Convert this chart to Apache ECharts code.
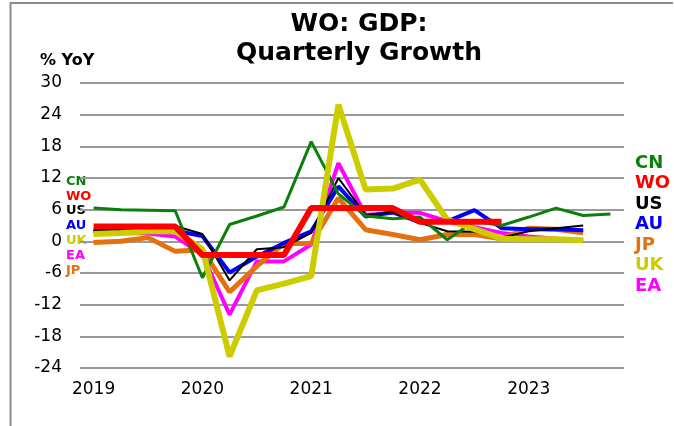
<html>
<head>
<meta charset="utf-8">
<script src="https://cdn.jsdelivr.net/npm/echarts@6/dist/echarts.min.js"></script>
</head>
<body>
<style>
    html, body, #main {
        width: 100%;
        height: 100%;
        margin: 0;
        background: #fff;
    }
</style>
<div id='main'></div>
<script>
    // quarters 2019Q1 .. 2023Q4
    var quarters = ['2019Q1','2019Q2','2019Q3','2019Q4','2020Q1','2020Q2','2020Q3','2020Q4',
                    '2021Q1','2021Q2','2021Q3','2021Q4','2022Q1','2022Q2','2022Q3','2022Q4',
                    '2023Q1','2023Q2','2023Q3','2023Q4'];

    // % YoY values
    var cn = [6.3, 6.0, 5.9, 5.8, -6.9, 3.2, 4.8, 6.5, 18.9, 9.0, 4.8, 4.3, 4.6, 0.3, 3.8, 3.0, 4.6, 6.3, 4.9, 5.2];
    var wo = [2.8, 2.8, 2.8, 2.8, -2.6, -2.6, -2.6, -2.6, 6.3, 6.3, 6.3, 6.3, 3.7, 3.7, 3.7, 3.7];
    var us = [2.1, 2.2, 2.4, 2.9, 1.4, -7.4, -1.5, -1.1, 1.6, 12.0, 5.0, 5.5, 3.5, 1.9, 1.8, 0.7, 1.9, 2.5, 3.0];
    var au = [2.0, 2.1, 2.1, 2.0, 1.0, -5.9, -2.9, -0.3, 1.9, 10.4, 4.7, 5.5, 3.6, 3.8, 5.9, 2.5, 2.3, 2.3, 2.1];
    var jp = [-0.2, 0.0, 0.7, -1.9, -1.6, -9.6, -4.7, -0.4, -0.4, 8.2, 2.2, 1.3, 0.3, 1.3, 1.3, 0.5, 2.5, 2.3, 1.6];
    var uk = [1.4, 1.6, 1.9, 1.9, -1.5, -21.8, -9.3, -8.0, -6.6, 25.9, 9.8, 10.0, 11.7, 4.1, 2.3, 0.5, 0.4, 0.4, 0.2];
    var ea = [1.8, 1.6, 1.5, 0.9, -2.5, -13.9, -3.8, -3.8, -0.6, 14.8, 5.0, 5.4, 5.4, 3.8, 2.7, 1.6, 0.9, 0.5, 0.2];

    var colors = {CN: '#0a800a', WO: '#ff0000', US: '#000000', AU: '#0000ff', JP: '#e5700f', UK: '#cccc00', EA: '#ff00ff'};
    var widths = {CN: 3, WO: 6, US: 2, AU: 4, JP: 5, UK: 6, EA: 4};

    var leftLabels = ['CN', 'WO', 'US', 'AU', 'UK', 'EA', 'JP'];
    var rightLabels = ['CN', 'WO', 'US', 'AU', 'JP', 'UK', 'EA'];

    // draw order, bottom to top
    var order = [['EA', ea], ['JP', jp], ['AU', au], ['US', us], ['CN', cn], ['UK', uk], ['WO', wo]];

    var series = order.map(function (s) {
        return {
            name: s[0],
            type: 'line',
            data: s[1],
            symbol: 'none',
            lineStyle: {color: colors[s[0]], width: widths[s[0]]},
            itemStyle: {color: colors[s[0]]}
        };
    });

    var graphics = [
        {type: 'polyline', shape: {points: [[10.5, 426], [10.5, 3], [673, 3]]}, style: {stroke: '#8c8c8c', lineWidth: 2, fill: null}},
        {type: 'text', x: 359, y: 24, style: {text: 'WO: GDP:', font: 'bold 25px "DejaVu Sans"', fill: '#000', textAlign: 'center', textVerticalAlign: 'middle'}},
        {type: 'text', x: 359, y: 53, style: {text: 'Quarterly Growth', font: 'bold 25px "DejaVu Sans"', fill: '#000', textAlign: 'center', textVerticalAlign: 'middle'}},
        {type: 'text', x: 40, y: 61, style: {text: '% YoY', font: 'bold 16px "DejaVu Sans"', fill: '#000', textAlign: 'left', textVerticalAlign: 'middle'}}
    ];
    leftLabels.forEach(function (n, i) {
        graphics.push({type: 'text', x: 66, y: 181.5 + i * 14.8,
            style: {text: n, font: 'bold 13px "DejaVu Sans"', fill: colors[n], textAlign: 'left', textVerticalAlign: 'middle'}});
    });
    rightLabels.forEach(function (n, i) {
        graphics.push({type: 'text', x: 635, y: 163 + i * 20.5,
            style: {text: n, font: 'bold 18px "DejaVu Sans"', fill: colors[n], textAlign: 'left', textVerticalAlign: 'middle'}});
    });

    var chart = echarts.init(document.getElementById('main'));
    var option = {
        animation: false,
        backgroundColor: '#fff',
        grid: {left: 80, right: 50, top: 83, bottom: 58},
        xAxis: {
            type: 'category',
            data: quarters,
            boundaryGap: true,
            axisLine: {show: false},
            axisTick: {show: false},
            splitLine: {show: false},
            axisLabel: {
                interval: 3,
                margin: 13,
                color: '#000',
                fontFamily: 'DejaVu Sans',
                fontSize: 17,
                formatter: function (v) { return v.slice(0, 4); }
            }
        },
        yAxis: {
            type: 'value',
            min: -24,
            max: 30,
            interval: 6,
            axisLine: {show: false},
            axisTick: {show: false},
            axisLabel: {margin: 18, color: '#000', fontFamily: 'DejaVu Sans', fontSize: 17},
            splitLine: {lineStyle: {color: '#9a9a9a', width: 2}}
        },
        graphic: graphics,
        series: series
    };
    chart.setOption(option);
    window.onresize = chart.resize;
</script>
</body>
</html>
